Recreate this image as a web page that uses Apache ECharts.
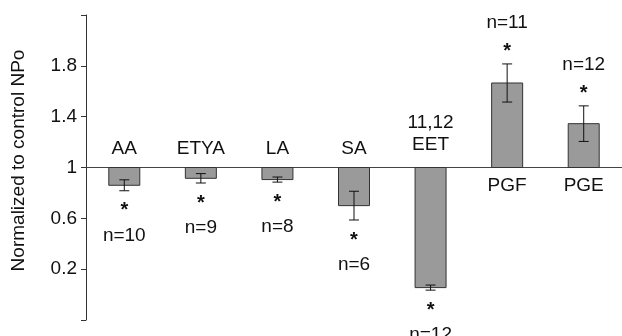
<!DOCTYPE html>
<html>
<head>
<meta charset="utf-8">
<script src="https://cdn.jsdelivr.net/npm/echarts@6/dist/echarts.min.js"></script>
<style>
  html, body { margin: 0; padding: 0; background: #fff; }
  #chart { width: 622px; height: 336px; }
</style>
</head>
<body>
<div id="chart"></div>
<script>
// Treatments, mean NPo normalised to control, SEM and number of patches
const categories = ['AA', 'ETYA', 'LA', 'SA', '11,12\nEET', 'PGF', 'PGE'];
const means = [0.86, 0.915, 0.905, 0.70, 0.055, 1.665, 1.345];
const sems = [0.043, 0.037, 0.02, 0.113, 0.02, 0.15, 0.14];
const nCounts = [10, 9, 8, 6, 12, 11, 12];
const significant = [true, true, true, true, true, true, true];
const baseline = 1;
const tickValues = [-0.2, 0.2, 0.6, 1, 1.4, 1.8, 2.2];
const labelValues = [0.2, 0.6, 1, 1.4, 1.8];

const FONT = '"Liberation Sans", Arial, Helvetica, sans-serif';
const chart = echarts.init(document.getElementById('chart'), null, { renderer: 'canvas' });

const barData = categories.map((c, i) => [i, means[i], sems[i], nCounts[i], significant[i] ? 1 : 0]);

function renderBar(params, api) {
  const i = api.value(0);
  const mean = api.value(1);
  const sem = api.value(2);
  const n = api.value(3);
  const sig = api.value(4);
  const halfW = 15.5;
  const base = api.coord([i, baseline]);
  const top = api.coord([i, mean]);
  const hi = api.coord([i, mean + sem]);
  const lo = api.coord([i, mean - sem]);
  const x = base[0];
  const up = mean >= baseline;
  const children = [];

  // bar grows from the control level (1) up or down
  children.push({
    type: 'rect',
    shape: { x: x - halfW, y: Math.min(base[1], top[1]), width: halfW * 2, height: Math.abs(top[1] - base[1]) },
    style: { fill: '#9a9a9a', stroke: '#333', lineWidth: 1 }
  });
  // SEM whisker with caps
  const cap = 5;
  const ink = { stroke: '#111', lineWidth: 1 };
  children.push({ type: 'line', shape: { x1: x, y1: hi[1], x2: x, y2: lo[1] }, style: ink });
  children.push({ type: 'line', shape: { x1: x - cap, y1: hi[1], x2: x + cap, y2: hi[1] }, style: ink });
  children.push({ type: 'line', shape: { x1: x - cap, y1: lo[1], x2: x + cap, y2: lo[1] }, style: ink });

  const txt = (text, y, va, extra) => ({
    type: 'text',
    style: Object.assign({
      text: text, x: x, y: y, align: 'center', verticalAlign: va,
      fill: '#111', font: '19px ' + FONT, lineHeight: 22
    }, extra || {})
  });
  const starFont = { font: 'bold 20px ' + FONT };

  const name = categories[i];
  if (up) {
    children.push(txt(name, base[1] + 18, 'middle'));
    const starY = hi[1] - 12.5;
    if (sig) children.push(txt('*', starY, 'middle', starFont));
    children.push(txt('n=' + n, starY - 28.5, 'middle'));
  } else {
    const lift = name.indexOf('\n') >= 0 ? 12 : 8;
    children.push(txt(name, base[1] - lift, 'bottom'));
    const starY = lo[1] + 20;
    if (sig) children.push(txt('*', starY, 'middle', starFont));
    children.push(txt('n=' + n, starY + 25, 'middle'));
  }
  return { type: 'group', children: children };
}

function renderBaseline(params, api) {
  const y = api.coord([0, baseline])[1];
  const cs = params.coordSys;
  return {
    type: 'line',
    shape: { x1: cs.x, y1: y, x2: cs.x + cs.width, y2: y },
    style: { stroke: '#444', lineWidth: 1 }
  };
}

chart.setOption({
  animation: false,
  backgroundColor: '#fff',
  grid: { left: 86, right: -5, top: 15, bottom: 16, containLabel: false },
  xAxis: {
    type: 'category',
    data: categories,
    show: false,
    boundaryGap: true
  },
  yAxis: {
    type: 'value',
    min: -0.2,
    max: 2.2,
    name: 'Normalized to control NPo',
    nameLocation: 'middle',
    nameGap: 58,
    nameTextStyle: { fontFamily: FONT, fontSize: 19, color: '#111', padding: [0, 0, 0, 14] },
    axisLine: { show: true, lineStyle: { color: '#333', width: 1 } },
    axisTick: { show: true, length: 5, inside: false, lineStyle: { color: '#333' }, customValues: tickValues },
    axisLabel: { fontFamily: FONT, fontSize: 19, color: '#111', margin: 9, customValues: labelValues },
    splitLine: { show: false }
  },
  series: [
    {
      type: 'custom',
      renderItem: renderBaseline,
      data: [[0, baseline]],
      z: 1,
      silent: true
    },
    {
      type: 'custom',
      renderItem: renderBar,
      data: barData,
      encode: { x: 0, y: 1 },
      z: 2,
      clip: false
    }
  ]
});
</script>
</body>
</html>
